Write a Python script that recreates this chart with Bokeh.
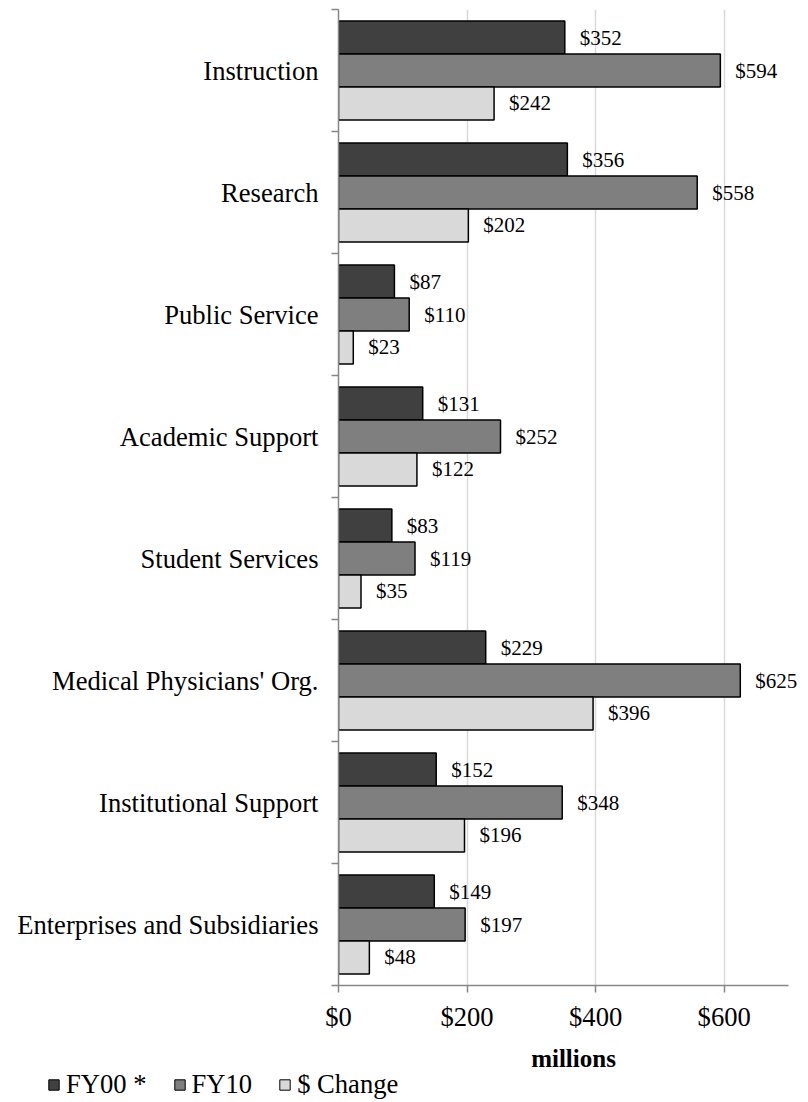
from bokeh.plotting import figure
from bokeh.layouts import column
from bokeh.models import (ColumnDataSource, Range1d, FixedTicker, LabelSet,
                          NumeralTickFormatter, Legend, LegendItem)
from bokeh.embed import file_html
from bokeh.resources import INLINE

categories = ["Instruction", "Research", "Public Service", "Academic Support",
              "Student Services", "Medical Physicians' Org.",
              "Institutional Support", "Enterprises and Subsidiaries"]
fy00 = [352, 356, 87, 131, 83, 229, 152, 149]
fy10 = [594, 558, 110, 252, 119, 625, 348, 197]
change = [242, 202, 23, 122, 35, 396, 196, 48]
series_names = ["FY00 *", "FY10", "$ Change"]
colors = ["#404040", "#7f7f7f", "#d9d9d9"]
x_ticks = [0, 200, 400, 600]
x_axis_max = 700

FONT = "Liberation Serif"
n = len(categories)
centers = [n - 0.5 - i for i in range(n)]
bar_h = 0.27
offsets = [bar_h, 0.0, -bar_h]

W, H = 808, 1074
left, right, top, bottom = 338, 0, 9, 88
px_per_unit = (788 - 338) / x_axis_max
x_end = (W - left - right) / px_per_unit

p = figure(width=W, height=H, output_backend="svg", toolbar_location=None,
           x_range=Range1d(0, x_end), y_range=Range1d(0, n),
           min_border_left=left, min_border_right=right, min_border_top=top,
           min_border_bottom=bottom)
p.outline_line_color = None
p.ygrid.visible = False
p.xgrid.ticker = FixedTicker(ticks=x_ticks)
p.xgrid.grid_line_color = "#d9d9d9"
p.xgrid.grid_line_width = 1.5

sources = []
for vals, off, col in zip([fy00, fy10, change], offsets, colors):
    src = ColumnDataSource(dict(
        y=[c + off for c in centers], x=vals,
        label=["$%d" % v for v in vals]))
    sources.append(src)
    p.hbar(y="y", right="x", left=0, height=bar_h, source=src,
           fill_color=col, line_color="black", line_width=1.5)
    p.add_layout(LabelSet(x="x", y="y", text="label", source=src,
                          x_offset=15, text_baseline="middle",
                          text_font=FONT, text_font_size="21px",
                          text_color="black"))

# y axis
yax = p.yaxis[0]
yax.ticker = FixedTicker(ticks=centers, minor_ticks=list(range(n + 1)))
yax.major_label_overrides = {c: categories[i] for i, c in enumerate(centers)}
yax.major_tick_out = 0
yax.major_tick_in = 0
yax.minor_tick_out = 7
yax.minor_tick_in = 0
yax.minor_tick_line_color = "#868686"
yax.minor_tick_line_width = 1.5
yax.axis_line_color = "#868686"
yax.axis_line_width = 1.5
yax.major_label_standoff = 13
yax.major_label_text_font = FONT
yax.major_label_text_font_size = "26.6px"
yax.major_label_text_color = "black"

# x axis
xax = p.xaxis[0]
xax.bounds = (0, x_axis_max)
xax.ticker = FixedTicker(ticks=x_ticks)
xax.formatter = NumeralTickFormatter(format="$0")
xax.major_tick_out = 7
xax.major_tick_in = 0
xax.minor_tick_out = 0
xax.minor_tick_in = 0
xax.major_tick_line_color = "#868686"
xax.major_tick_line_width = 1.5
xax.axis_line_color = "#868686"
xax.axis_line_width = 1.5
xax.major_label_standoff = 9
xax.major_label_text_font = FONT
xax.major_label_text_font_size = "26.6px"
xax.major_label_text_color = "black"
xax.axis_label = "millions"
xax.axis_label_text_font = FONT
xax.axis_label_text_font_size = "25px"
xax.axis_label_text_font_style = "bold"
xax.axis_label_text_color = "black"
xax.axis_label_standoff = 10

# legend strip below the chart: its own small figure (series bars lie
# outside its view on both axes; only their legend swatches show)
LH = 1102 - H
pl = figure(width=W, height=LH, output_backend="svg", toolbar_location=None,
            x_axis_type=None, y_axis_type=None,
            min_border_left=0, min_border_right=0, min_border_top=0,
            min_border_bottom=0, x_range=Range1d(-2, -1),
            y_range=Range1d(-2, -1))
pl.outline_line_color = None
pl.grid.visible = False
items = []
for nm, col, src in zip(series_names, colors, sources):
    r = pl.hbar(y="y", right="x", left=0, height=bar_h, source=src,
                fill_color=col, line_color="black", line_width=1)
    items.append(LegendItem(label=nm, renderers=[r]))
legend = Legend(items=items, orientation="horizontal", location=(47, 2),
                glyph_width=13, glyph_height=13, label_standoff=6, spacing=26,
                padding=0, margin=0, border_line_alpha=0,
                background_fill_alpha=0,
                label_text_font=FONT, label_text_font_size="26.6px",
                label_text_color="black")
pl.add_layout(legend, "center")

layout = column(p, column(pl, spacing=0), spacing=0)
open("out.html", "w").write(file_html(layout, INLINE))
